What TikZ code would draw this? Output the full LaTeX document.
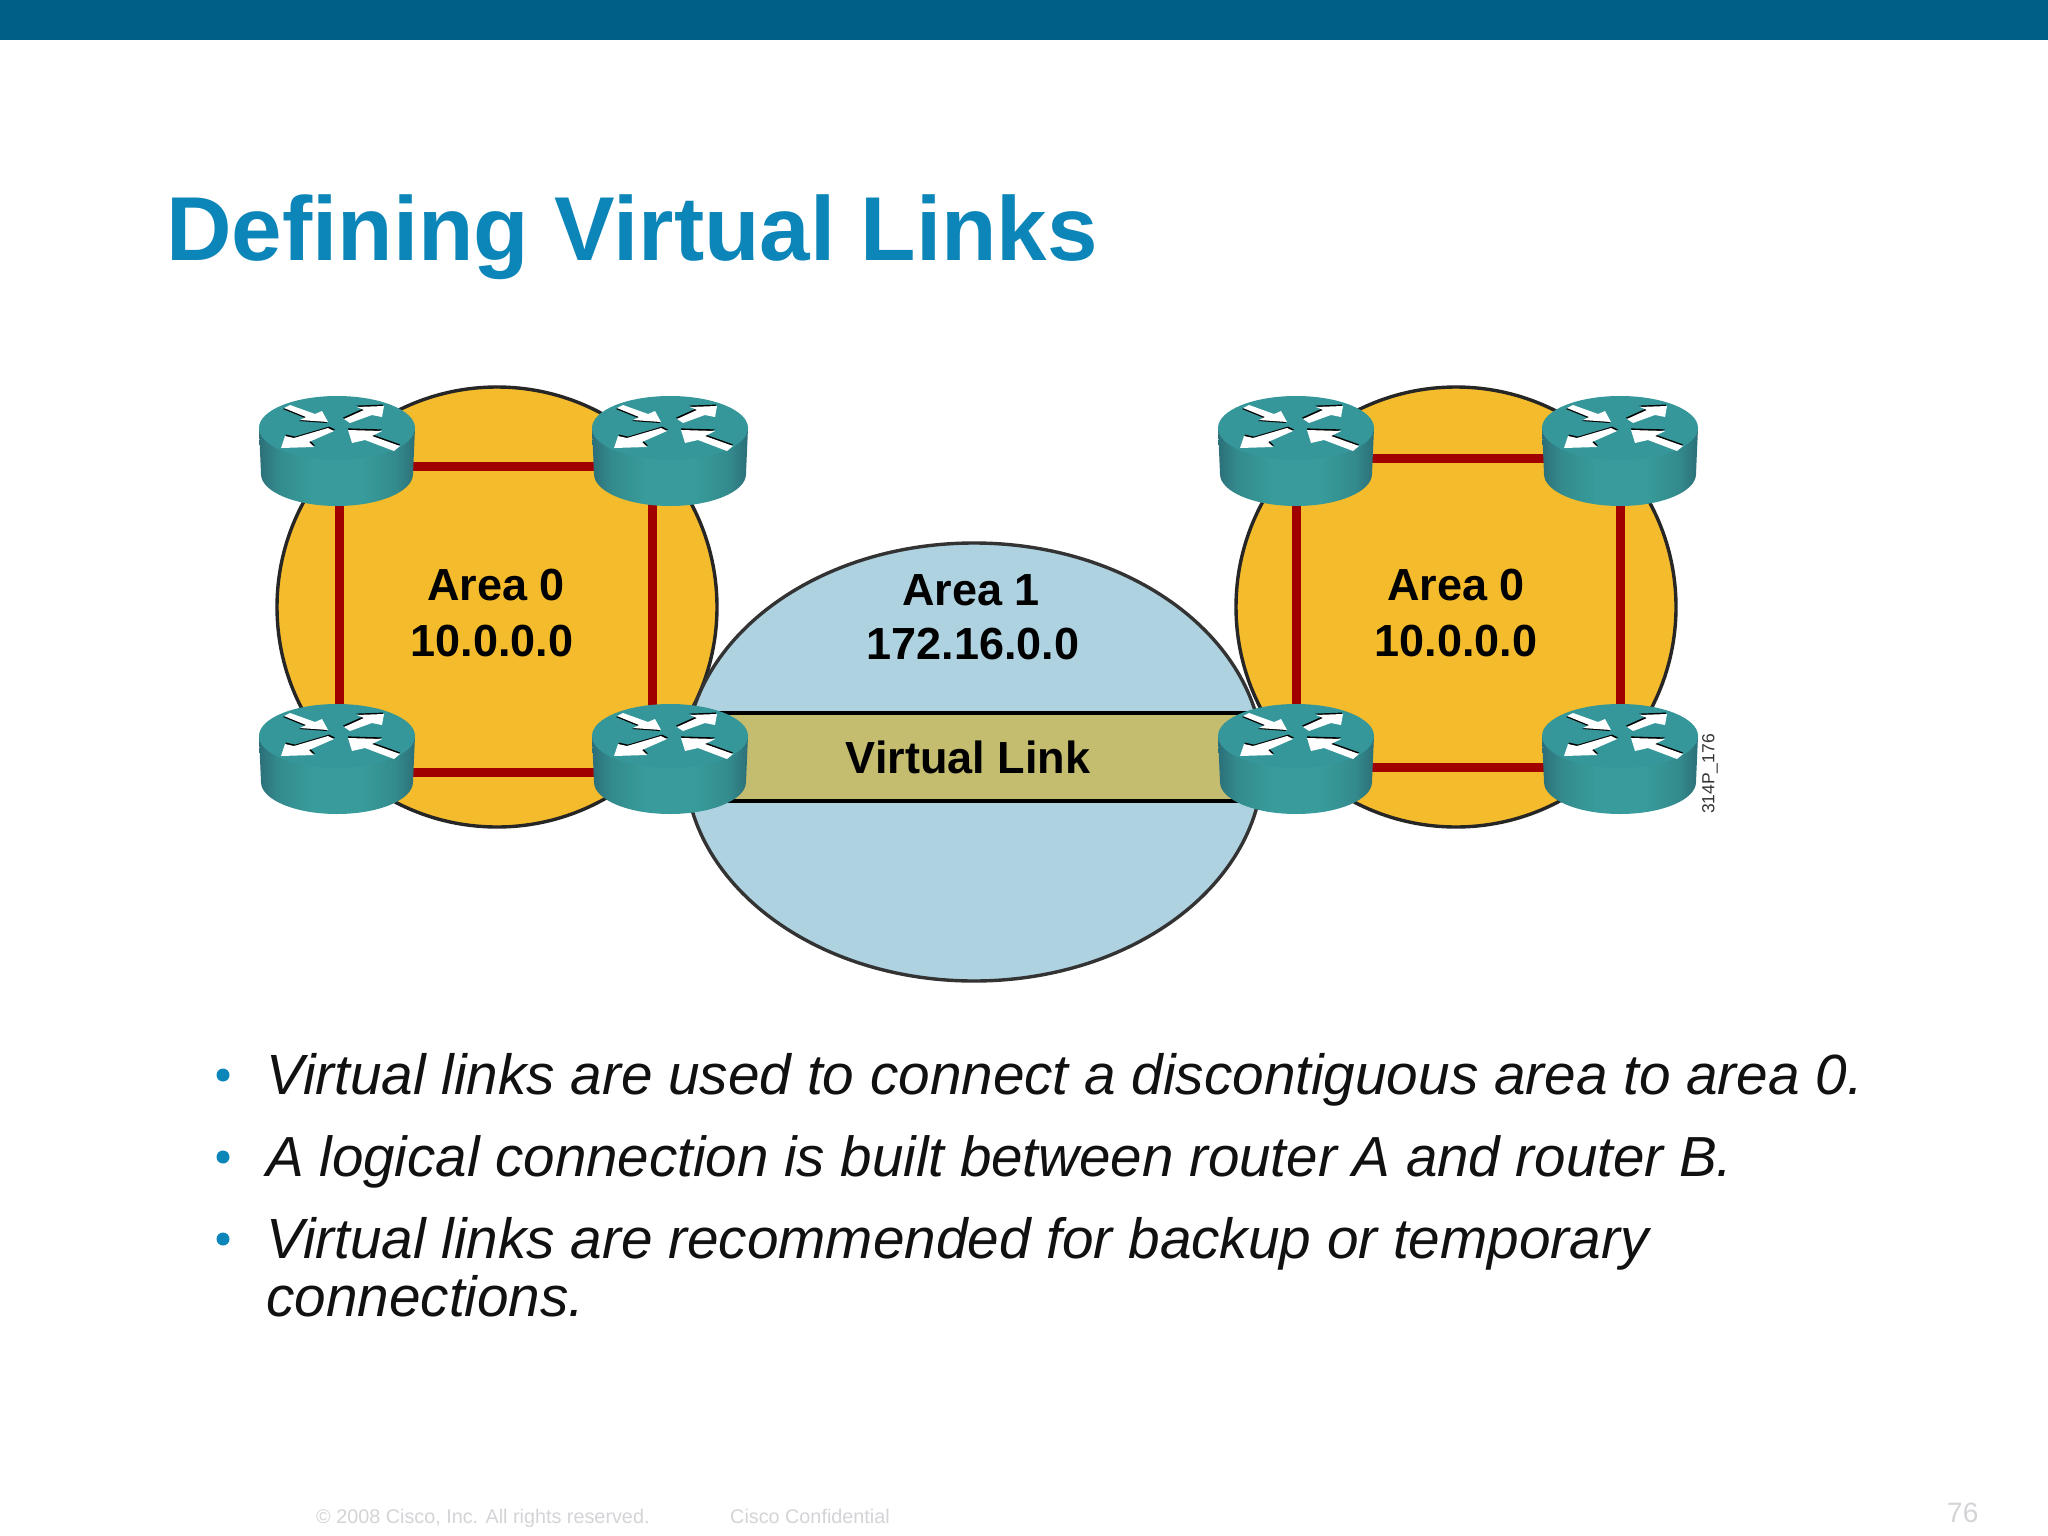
\documentclass[tikz,border=0pt]{standalone}
\usepackage{fontspec}
\setmainfont{Liberation Sans}
\definecolor{barblue}{HTML}{005F87}
\definecolor{titleblue}{HTML}{0C85B8}
\definecolor{areayellow}{HTML}{F4BC2C}
\definecolor{areablue}{HTML}{AED2E0}
\definecolor{linkred}{HTML}{A00000}
\definecolor{vlink}{HTML}{C4BC6E}
\definecolor{rtop}{HTML}{35979A}
\definecolor{rmid}{HTML}{379C9B}
\definecolor{rsoft}{HTML}{338A8C}
\definecolor{redge}{HTML}{2C6F78}
\definecolor{foot}{HTML}{D4D4D8}
\definecolor{bodytext}{HTML}{111111}
\pgfdeclarehorizontalshading{routerside}{100bp}{color(0bp)=(redge); color(25bp)=(redge); color(31bp)=(rsoft); color(42bp)=(rmid); color(58bp)=(rmid); color(69bp)=(rsoft); color(75bp)=(redge); color(100bp)=(redge)}
\tikzset{
 lbl/.style={inner sep=0pt,font=\bfseries\fontsize{45}{45}\selectfont,text=black},
 areacircle/.style={draw=black!85,line width=3.4pt,fill=areayellow},
 areaoval/.style={draw=black!80,line width=3.4pt,fill=areablue},
 redlink/.style={draw=linkred,line width=9pt},
 blackedge/.style={draw=black,line width=4pt},
 bullettext/.style={inner sep=0pt,anchor=base west,text=bodytext,font=\itshape\fontsize{56.7}{58}\selectfont},
 bulletdot/.style={circle,fill=titleblue,inner sep=0pt,minimum size=13pt},
 foottext/.style={inner sep=0pt,anchor=base west,text=foot,font=\fontsize{19.8}{22}\selectfont}
}
\newcommand{\routerat}[3]{%
\begin{scope}[shift={(#2,#3)}]
 \coordinate (#1) at (0,0);
 \shade[shading=routerside]
   (-78,0) -- (-76,46) arc[start angle=180,end angle=0,x radius=76,y radius=32] -- (78,0) -- cycle;
 \fill[rtop] (0,0) ellipse[x radius=78,y radius=32];
 \foreach \sx/\sy/\poly in {
   -1/1/{(-47,-23) -- (-22,-14) -- (-15,-17) -- (-9,-6) -- (-37,-8) -- (-31,-11) -- (-53,-20)},
   -1/-1.4/{(7,-9) -- (27,-18) -- (20,-21) -- (47,-22) -- (45,-11) -- (35,-13) -- (13,-5)},
   1/-1.4/{(-9,0) -- (-3,3) -- (-28,14) -- (-23,19) -- (-56,20) -- (-52,8) -- (-43,10)},
   0/-1.6/{(63,18) -- (57,23) -- (28,12) -- (15,15) -- (11,2) -- (45,3) -- (35,8)}}{
   \fill[black,shift={(\sx,\sy)}] \poly -- cycle;
   \fill[white] \poly -- cycle;
 }
\end{scope}}
\begin{document}
\begin{tikzpicture}[x=1pt,y=-1pt]
\useasboundingbox (0,0) rectangle (2048,1536);
\fill[white] (0,0) rectangle (2048,1536);
\fill[barblue] (0,0) rectangle (2048,40);
\node[inner sep=0pt,anchor=base west,text=titleblue,font=\bfseries\fontsize{90.8}{90}\selectfont] (title) at (166,260) {Defining Virtual Links};
% areas
\draw[areacircle] (497,607) circle[radius=220];
\draw[areacircle] (1456,607) circle[radius=220];
\draw[areaoval] (974,762) ellipse[x radius=289,y radius=219];
% virtual link
\coordinate (la) at (339,466);\coordinate (lb) at (652,466);
\coordinate (lc) at (339,772);\coordinate (ld) at (652,772);
\coordinate (ra) at (1296,458);\coordinate (rb) at (1620,458);
\coordinate (rc) at (1296,767);\coordinate (rd) at (1620,767);
\node[fill=vlink,inner sep=0pt,minimum width=626pt,minimum height=88pt] (vl) at (983,757) {};
\draw[blackedge] (vl.north west) -- (vl.north east);
\draw[blackedge] (vl.south west) -- (vl.south east);
\node[lbl] (vltext) at (968,757) {Virtual Link};
% red links
\draw[redlink] (la) -- (lb);\draw[redlink] (lb) -- (ld);\draw[redlink] (ld) -- (lc);\draw[redlink] (lc) -- (la);
\draw[redlink] (ra) -- (rb);\draw[redlink] (rb) -- (rd);\draw[redlink] (rd) -- (rc);\draw[redlink] (rc) -- (ra);
% routers
\routerat{r1}{337}{428}\routerat{r2}{670}{428}\routerat{r3}{337}{736}\routerat{r4}{670}{736}
\routerat{r5}{1296}{428}\routerat{r6}{1620}{428}\routerat{r7}{1296}{736}\routerat{r8}{1620}{736}
% labels
\node[lbl] (a0a) at (496,585) {Area 0};
\node[lbl] (a0b) at (492,641) {10.0.0.0};
\node[lbl] (a0c) at (1456,585) {Area 0};
\node[lbl] (a0d) at (1456,641) {10.0.0.0};
\node[lbl] (a1a) at (971,590) {Area 1};
\node[lbl] (a1b) at (973,644) {172.16.0.0};
\node[inner sep=0pt,rotate=90,text=black!80,font=\fontsize{17.5}{18}\selectfont] (code) at (1710,774) {314P\_176};
% bullets
\node[bulletdot] (b1) at (223,1075) {};
\node[bulletdot] (b2) at (223,1157) {};
\node[bulletdot] (b3) at (223,1239) {};
\node[bullettext] (t1) at (266,1094) {Virtual links are used to connect a discontiguous area to area 0.};
\node[bullettext,font=\itshape\fontsize{56.5}{58}\selectfont] (t2) at (266,1176) {A logical connection is built between router A and router B.};
\node[bullettext] (t3) at (266,1258) {Virtual links are recommended for backup or temporary};
\node[bullettext] (t4) at (266,1316) {connections.};
% footer
\node[foottext] (f1) at (316,1523) {© 2008 Cisco, Inc. All rights reserved.};
\node[foottext] (f2) at (730,1523) {Cisco Confidential};
\node[foottext,font=\fontsize{28}{28}\selectfont] (f3) at (1947,1522) {76};
\end{tikzpicture}
\end{document}
